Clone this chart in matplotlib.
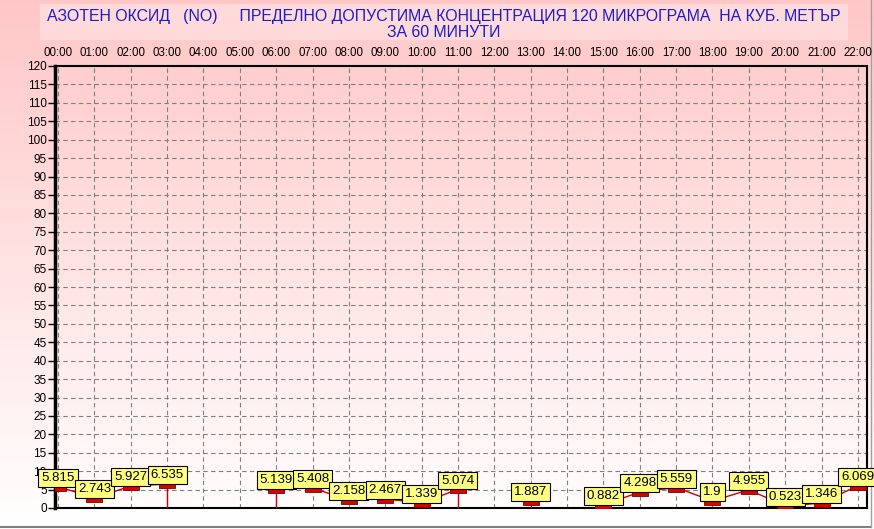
import numpy as np
import matplotlib.pyplot as plt
from matplotlib.lines import Line2D
from matplotlib.patches import Rectangle

TITLE_1 = 'АЗОТЕН ОКСИД   (NO)     ПРЕДЕЛНО ДОПУСТИМА КОНЦЕНТРАЦИЯ 120 МИКРОГРАМА  НА КУБ. МЕТЪР'
TITLE_2 = 'ЗА 60 МИНУТИ'

hours = list(range(23))
hour_labels = ['%02d:00' % h for h in hours]
values = [5.815, 2.743, 5.927, 6.535, None, None, 5.139, 5.408, 2.158, 2.467,
          1.339, 5.074, None, 1.887, None, 0.882, 4.298, 5.559, 1.9, 4.955,
          0.523, 1.346, 6.069]
value_labels = ['5.815', '2.743', '5.927', '6.535', '', '', '5.139', '5.408', '2.158',
                '2.467', '1.339', '5.074', '', '1.887', '', '0.882', '4.298', '5.559',
                '1.9', '4.955', '0.523', '1.346', '6.069']

plt.rcParams['font.family'] = ['Liberation Sans', 'DejaVu Sans']

fig = plt.figure(figsize=(8.74, 5.29), dpi=100)

# background gradient over the whole figure
bg = fig.add_axes([0, 0, 1, 1], zorder=-10)
grad = np.linspace(0, 1, 256).reshape(-1, 1)
top = np.array([1.0, 0.78, 0.78])
bottom = np.array([1.0, 1.0, 1.0])
img = top * (1 - grad[..., None]) + bottom * grad[..., None]
img = np.repeat(img, 2, axis=1)
bg.imshow(img, aspect='auto', extent=[0, 1, 0, 1])
bg.axis('off')
bg.add_patch(Rectangle((40 / 874, 1 - 40 / 529), 808 / 874, 36 / 529,
                       facecolor='#ffdada', edgecolor='none'))
bg.add_line(Line2D([0, 871 / 874], [1 - 527 / 529] * 2, color='#808080', lw=1.5))
bg.add_line(Line2D([871 / 874] * 2, [1 - 527 / 529, 1], color='#a0a0a0', lw=1))
bg.set_xlim(0, 1)
bg.set_ylim(0, 1)

fig.text(444 / 874, 1 - 21 / 529, TITLE_1, ha='center', va='baseline',
         color='#1c1cc8', fontsize=11.4)
fig.text(444 / 874, 1 - 37 / 529, TITLE_2, ha='center', va='baseline',
         color='#1c1cc8', fontsize=11.4)

ax = fig.add_axes([55 / 874, 1 - 508 / 529, 812 / 874, 442 / 529])
ax.patch.set_alpha(0)

y = np.array([np.nan if v is None else v for v in values])
x = np.array(hours)

ax.plot(x, y, color='#d00000', lw=1, zorder=3)

# stems at the edges of gaps
for i, v in enumerate(values):
    if v is None:
        continue
    prev_gap = i > 0 and values[i - 1] is None
    next_gap = i < len(values) - 1 and values[i + 1] is None
    if prev_gap or next_gap:
        ax.plot([x[i], x[i]], [0, v], color='#d00000', lw=1, zorder=3)

box_marker = [(-1, 0), (1, 0), (1, -0.5), (-1, -0.5), (-1, 0)]
ax.plot(x, y, linestyle='none', marker=box_marker, markersize=11,
        markerfacecolor='#dd0000', markeredgecolor='#800000', markeredgewidth=0.6,
        zorder=4)

for xi, v, lab in zip(x, values, value_labels):
    if v is None:
        continue
    ax.annotate(lab, (xi, v), xytext=(0, 2), textcoords='offset points',
                ha='center', va='bottom', fontsize=9.5, zorder=6,
                bbox=dict(boxstyle='square,pad=0.22', facecolor='#ffff80',
                          edgecolor='black', lw=0.8))

ax.set_xlim(-0.083, 22.25)
ax.set_ylim(0, 120)
ax.set_yticks(range(0, 121, 5))
ax.set_xticks(hours)
ax.set_xticklabels(hour_labels)
ax.xaxis.tick_top()
ax.tick_params(axis='x', length=0, pad=5, labelsize=8.3)
ax.tick_params(axis='y', length=5, width=1, pad=1, labelsize=8.5, direction='out')

ax.grid(True, color='#808080', linestyle=(0, (4, 3)), lw=0.8)
ax.set_axisbelow(True)

ax.spines['left'].set_linewidth(2.5)
ax.spines['right'].set_linewidth(1.5)
for side in ['top', 'bottom']:
    ax.spines[side].set_linewidth(1.5)
    ax.spines[side].set_linestyle((0, (3, 1)))

fig.savefig('out.png', dpi=100)
